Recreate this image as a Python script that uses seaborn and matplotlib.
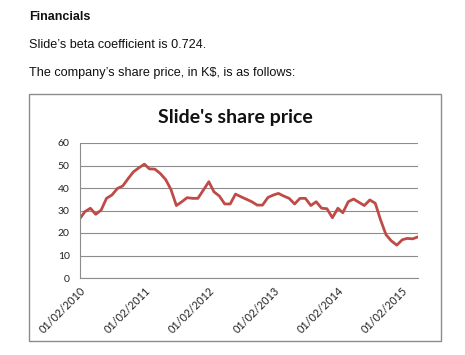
import matplotlib
matplotlib.use("Agg")
import matplotlib.pyplot as plt
import matplotlib.dates as mdates
import matplotlib.patches as mpatches
import seaborn as sns
import pandas as pd
import numpy as np

# ---- data ----
start_month = "2010-02-01"
prices = [26.5, 29.5, 31.0, 28.3, 30.2, 35.4, 36.9, 39.8, 40.9, 44.2,
          47.2, 49.0, 50.6, 48.5, 48.4, 46.5, 43.8, 39.4, 32.2, 33.9,
          35.7, 35.4, 35.4, 39.1, 42.8, 38.3, 36.4, 32.9, 32.9, 37.3,
          36.1, 35.0, 33.9, 32.4, 32.4, 35.8, 36.9, 37.6, 36.4, 35.4,
          32.9, 35.4, 35.4, 32.2, 33.9, 31.0, 30.8, 26.8, 31.0, 29.0,
          33.9, 35.1, 33.6, 32.2, 34.7, 33.2, 25.8, 19.2, 16.5, 14.6,
          17.0, 17.6, 17.4, 18.3]
tick_dates = ["2010-02-01", "2011-02-01", "2012-02-01", "2013-02-01",
              "2014-02-01", "2015-02-01"]
y_ticks = [0, 10, 20, 30, 40, 50, 60]
title = "Slide's share price"
heading = "Financials"
line1 = "Slide\u2019s beta coefficient is 0.724."
line2 = "The company\u2019s share price, in K$, is as follows:"

dates = pd.date_range(start_month, periods=len(prices), freq="MS")
df = pd.DataFrame({"date": dates, "price": prices})

sns.set_style("white")
plt.rcParams["font.family"] = ["Liberation Sans", "DejaVu Sans"]

W, H = 465, 355
fig = plt.figure(figsize=(W / 100, H / 100), dpi=100)
fig.patch.set_facecolor("white")

# page text
fig.text(29 / W, 1 - 17 / H, heading, fontsize=9.0, fontweight="bold",
         va="center", ha="left", color="#111111")
fig.text(29 / W, 1 - 45 / H, line1, fontsize=9.05, va="center", ha="left",
         color="#111111")
fig.text(29 / W, 1 - 73 / H, line2, fontsize=9.05, va="center", ha="left",
         color="#111111")

# chart border
fig.patches.append(mpatches.Rectangle((29 / W, 1 - 341 / H), (441 - 29) / W,
                                      (341 - 94) / H, transform=fig.transFigure,
                                      fill=False, edgecolor="#8c8c8c", lw=1.0))

ax = fig.add_axes([80 / W, 1 - 278 / H, (418 - 80) / W, (278 - 143) / H])
sns.lineplot(data=df, x="date", y="price", ax=ax, color="#BE4B48",
             linewidth=2.0)

ax.set_ylim(0, 60)
ax.set_yticks(y_ticks)
ax.set_xlim(dates[0], dates[-1])
ax.set_xticks(pd.to_datetime(tick_dates))
ax.xaxis.set_major_formatter(mdates.DateFormatter("%d/%m/%Y"))
ax.set_xlabel("")
ax.set_ylabel("")
ax.grid(axis="y", color="#8c8c8c", lw=0.8)
ax.set_axisbelow(True)

for s in ["top", "right"]:
    ax.spines[s].set_visible(False)
for s in ["left", "bottom"]:
    ax.spines[s].set_color("#8c8c8c")
    ax.spines[s].set_linewidth(0.8)

ax.tick_params(axis="both", which="major", length=4, width=0.8,
               color="#8c8c8c", direction="out", labelsize=7.5,
               labelcolor="#222222")
ax.tick_params(axis="x", pad=1, labelsize=7.8)
for lbl in ax.get_xticklabels():
    lbl.set_rotation(45)
    lbl.set_ha("right")
    lbl.set_rotation_mode("anchor")
    lbl.set_family(["Lato", "DejaVu Sans"])
for lbl in ax.get_yticklabels():
    lbl.set_family(["Lato", "DejaVu Sans"])

fig.text(235 / W, 1 - 117 / H, title, fontsize=14, fontweight="bold",
         ha="center", va="center", family=["Lato", "DejaVu Sans"],
         color="#111111")

fig.savefig("out.png", dpi=100, facecolor="white")
